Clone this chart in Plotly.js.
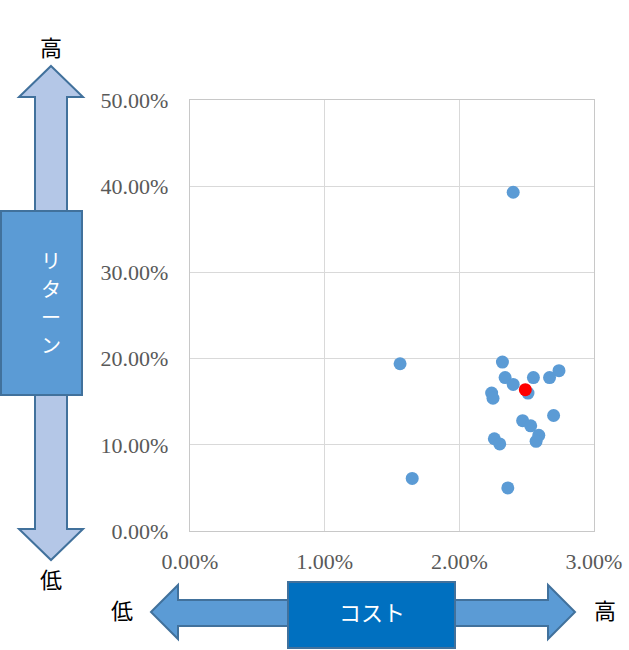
<!DOCTYPE html>
<html>
<head>
<meta charset="utf-8">
<script src="https://cdn.plot.ly/plotly-3.0.1.min.js"></script>
<style>
  html, body { margin: 0; padding: 0; background: #fff; }
  #chart { width: 629px; height: 650px; }
</style>
</head>
<body>
<div id="chart"></div>
<script>
    // cost (%) / return (%) per fund
    var cost = [1.56, 1.65, 2.40, 2.32, 2.34, 2.40, 2.55, 2.67, 2.74, 2.51, 2.24, 2.25,
                2.70, 2.47, 2.53, 2.59, 2.57, 2.26, 2.30, 2.36];
    var ret  = [19.4, 6.1, 39.3, 19.6, 17.8, 17.0, 17.8, 17.8, 18.6, 16.0, 16.0, 15.4,
                13.4, 12.8, 12.2, 11.1, 10.4, 10.7, 10.1, 5.0];
    // highlighted fund
    var hiCost = [2.49];
    var hiRet  = [16.4];

    var xTicks = [0, 1, 2, 3];
    var xTickText = ['0.00%', '1.00%', '2.00%', '3.00%'];
    var yTicks = [0, 10, 20, 30, 40, 50];
    var yTickText = ['0.00%', '10.00%', '20.00%', '30.00%', '40.00%', '50.00%'];

    // plot area in page pixels
    var L = 190, R = 594, T = 100, B = 531;
    function px(x) { return (x - L) / (R - L); }
    function py(y) { return (B - y) / (B - T); }
    function path(pts) {
        return 'M' + pts.map(function (p) { return px(p[0]) + ',' + py(p[1]); }).join(' L') + ' Z';
    }

    var trace1 = {
        x: cost,
        y: ret,
        mode: 'markers',
        type: 'scatter',
        hoverinfo: 'x+y',
        marker: { color: '#5B9BD5', size: 13 }
    };
    var trace2 = {
        x: hiCost,
        y: hiRet,
        mode: 'markers',
        type: 'scatter',
        hoverinfo: 'x+y',
        marker: { color: '#FF0000', size: 13 }
    };

    var edge = { color: '#41719C', width: 2 };
    var shapes = [
        // vertical double arrow
        { type: 'path', xref: 'paper', yref: 'paper', fillcolor: '#B4C7E7', line: edge,
          path: path([[51, 66], [83, 97], [67, 97], [67, 529], [83, 529], [51, 560],
                      [19, 529], [35, 529], [35, 97], [19, 97]]) },
        { type: 'rect', xref: 'paper', yref: 'paper', fillcolor: '#5B9BD5', line: edge,
          x0: px(1), x1: px(82), y0: py(395), y1: py(211) },
        // horizontal double arrow
        { type: 'path', xref: 'paper', yref: 'paper', fillcolor: '#5B9BD5', line: edge,
          path: path([[151, 612], [178, 585], [178, 600], [548, 600], [548, 585], [575, 612],
                      [548, 639], [548, 626], [178, 626], [178, 639]]) },
        { type: 'rect', xref: 'paper', yref: 'paper', fillcolor: '#0070C0', line: edge,
          x0: px(288), x1: px(455), y0: py(648), y1: py(582) }
    ];

    var jp = 'Noto Sans CJK JP, sans-serif';
    function note(x, y, text, color, size) {
        return { xref: 'paper', yref: 'paper', x: px(x), y: py(y), text: text,
                 showarrow: false, xanchor: 'center', yanchor: 'middle',
                 font: { family: jp, size: size || 22, color: color } };
    }
    var annotations = [
        note(51, 46, '高', '#000'),
        note(51, 578, '低', '#000'),
        note(122, 609, '低', '#000'),
        note(605, 609, '高', '#000'),
        note(372, 611, 'コスト', '#fff'),
        // stacked label inside the vertical box
        note(51, 260, 'リ', '#fff', 20),
        note(51, 288, 'タ', '#fff', 20),
        note(51, 316, 'ー', '#fff', 20),
        note(51, 344, 'ン', '#fff', 20)
    ];

    var tickFont = { family: 'Liberation Serif, serif', size: 22, color: '#595959' };

    var layout = {
        width: 629,
        height: 650,
        paper_bgcolor: '#fff',
        plot_bgcolor: '#fff',
        showlegend: false,
        margin: { l: L, r: 629 - R, t: T, b: 650 - B, pad: 0 },
        xaxis: {
            range: [0, 3],
            tickvals: xTicks,
            ticktext: xTickText,
            tickfont: tickFont,
            ticklabelstandoff: 10,
            showgrid: true,
            gridcolor: '#D9D9D9',
            gridwidth: 1.3,
            zeroline: false,
            showline: true,
            mirror: true,
            linecolor: '#C8C8C8',
            linewidth: 1.3,
            fixedrange: true
        },
        yaxis: {
            range: [0, 50],
            tickvals: yTicks,
            ticktext: yTickText,
            tickfont: tickFont,
            ticklabelstandoff: 16,
            showgrid: true,
            gridcolor: '#D9D9D9',
            gridwidth: 1.3,
            zeroline: false,
            showline: true,
            mirror: true,
            linecolor: '#C8C8C8',
            linewidth: 1.3,
            fixedrange: true
        },
        shapes: shapes,
        annotations: annotations
    };

    Plotly.newPlot('chart', [trace1, trace2], layout, { displayModeBar: false, staticPlot: true });
</script>
</body>
</html>
